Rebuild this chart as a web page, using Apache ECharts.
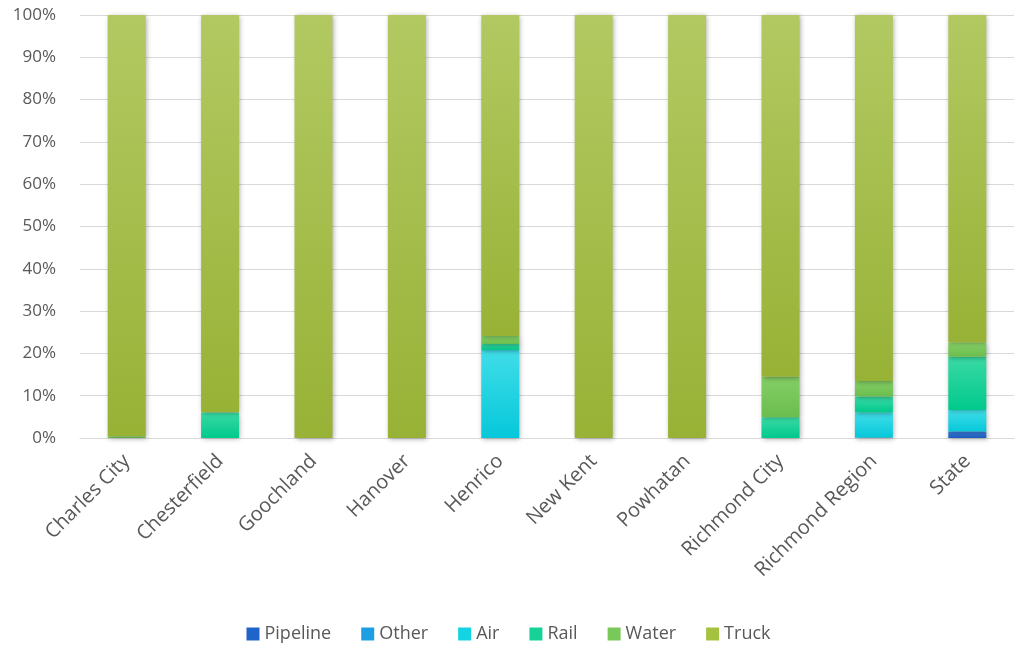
<!DOCTYPE html>
<html>
<head>
<meta charset="utf-8">
<script src="https://cdn.jsdelivr.net/npm/echarts@6/dist/echarts.min.js"></script>
<style>
  html, body { margin: 0; padding: 0; background: #fff; }
  #chart { width: 1017px; height: 650px; }
</style>
</head>
<body>
<div id="chart"></div>
<script>
// categories and shares (percent) per mode
var categories = ['Charles City', 'Chesterfield', 'Goochland', 'Hanover', 'Henrico',
                  'New Kent', 'Powhatan', 'Richmond City', 'Richmond Region', 'State'];
var pipeline = [0, 0, 0, 0, 0, 0, 0, 0, 0, 1.4];
var other    = [0, 0, 0, 0, 0, 0, 0, 0, 0.1, 0.2];
var air      = [0, 0, 0, 0, 20.8, 0, 0, 0, 5.9, 5.0];
var rail     = [0, 6.0, 0, 0, 1.4, 0, 0, 4.9, 3.8, 12.6];
var water    = [0.4, 0.1, 0, 0, 1.9, 0, 0, 9.6, 3.7, 3.4];
var truck    = [99.6, 93.9, 100, 100, 75.9, 100, 100, 85.5, 86.6, 77.4];
var yTicks   = [0, 10, 20, 30, 40, 50, 60, 70, 80, 90, 100];

var chart = echarts.init(document.getElementById('chart'));

// Excel style gradient: lighter at top of each segment
function grad(top, bottom) {
  return new echarts.graphic.LinearGradient(0, 0, 0, 1, [
    { offset: 0, color: top },
    { offset: 1, color: bottom }
  ]);
}

var modes = [
  { name: 'Pipeline', data: pipeline, solid: '#1f64c8', top: '#3a7ad6', bottom: '#1a5cc0' },
  { name: 'Other',    data: other,    solid: '#1e9ee2', top: '#3aaee8', bottom: '#1894d8' },
  { name: 'Air',      data: air,      solid: '#14d3e3', top: '#40dde8', bottom: '#06c8da' },
  { name: 'Rail',     data: rail,     solid: '#16d297', top: '#3ad9a4', bottom: '#00c98c' },
  { name: 'Water',    data: water,    solid: '#78c95a', top: '#84cf66', bottom: '#6bbd4e' },
  { name: 'Truck',    data: truck,    solid: '#a4c240', top: '#b2c962', bottom: '#98b236' }
];

var series = modes.map(function (m) {
  return {
    name: m.name,
    type: 'bar',
    stack: 'total',
    barWidth: 38,
    data: m.data,
    itemStyle: {
      color: grad(m.top, m.bottom),
      shadowColor: 'rgba(0,0,0,0.35)',
      shadowBlur: 5,
      shadowOffsetX: 1,
      shadowOffsetY: 1
    }
  };
});

var option = {
  animation: false,
  backgroundColor: '#fff',
  textStyle: { fontFamily: 'Open Sans' },
  grid: { left: 80, right: 3, top: 15, bottom: 212, containLabel: false },
  legend: {
    bottom: 2,
    left: 'center',
    itemWidth: 13,
    itemHeight: 13,
    itemGap: 30,
    icon: 'rect',
    textStyle: { color: '#595959', fontSize: 18, fontFamily: 'Open Sans' },
    data: modes.map(function (m) {
      return { name: m.name, itemStyle: { color: m.solid, shadowBlur: 0 } };
    })
  },
  xAxis: {
    type: 'category',
    data: categories,
    axisLine: { lineStyle: { color: '#d9d9d9', width: 1 } },
    axisTick: { show: false },
    axisLabel: { rotate: 45, color: '#595959', fontSize: 20, margin: 20, interval: 0 }
  },
  yAxis: {
    type: 'value',
    min: yTicks[0],
    max: yTicks[yTicks.length - 1],
    interval: 10,
    axisLine: { show: false },
    axisTick: { show: false },
    splitLine: { lineStyle: { color: '#d9d9d9', width: 1 } },
    axisLabel: { color: '#595959', fontSize: 17, margin: 24, formatter: '{value}%' }
  },
  series: series
};

chart.setOption(option);
</script>
</body>
</html>
